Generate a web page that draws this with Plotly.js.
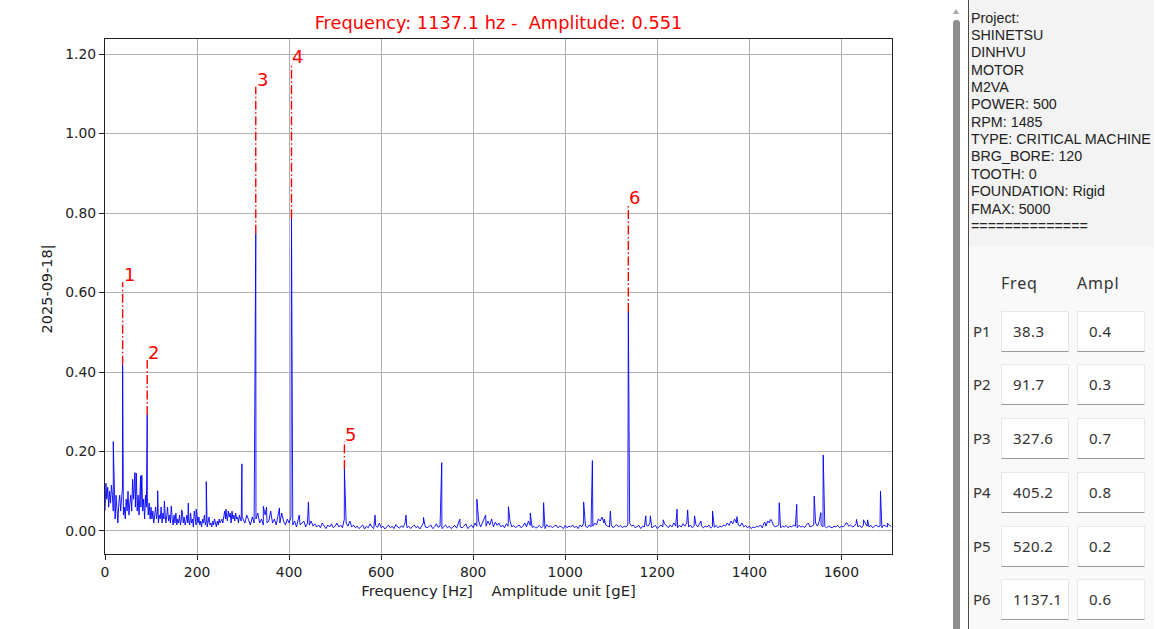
<!DOCTYPE html>
<html>
<head>
<meta charset="utf-8">
<script src="https://cdn.plot.ly/plotly-3.0.1.min.js"></script>
<style>
  html, body { margin:0; padding:0; width:1156px; height:629px; overflow:hidden; background:#fff; }
  #chart { position:absolute; left:0; top:0; width:940px; height:629px; }
  #side { position:absolute; left:940px; top:0; width:216px; height:629px; background:#fff; }
  .abs { position:absolute; }
  #info { font-family:"Liberation Sans", Arial, sans-serif; font-size:14.3px; color:#222; line-height:17.36px; }
  .tbl { font-family:"Noto Sans", "DejaVu Sans", sans-serif; color:#333; }
  .box { position:absolute; width:68px; height:41px; background:#fff; border:1px solid #e8e8e8; border-bottom:1px solid #9a9a9a; box-sizing:border-box; font-size:15px; letter-spacing:0.4px; line-height:39px; padding-left:11px; }
</style>
</head>
<body>
<div id="chart"></div>
<div id="side"></div>
<script>
// ---------------- DATA ----------------
const chartTitle = "Frequency: 1137.1 hz -\u00a0\u00a0Amplitude: 0.551";
const xAxisTitle = "Frequency [Hz]\u00a0\u00a0\u00a0\u00a0Amplitude unit [gE]";
const yAxisTitle = "2025-09-18|";

// peaks (marked)
const peakLabels = ["1", "2", "3", "4", "5", "6"];
const peakFreq = [38.3, 91.7, 327.6, 405.2, 520.2, 1137.1];
const peakAmp  = [0.418, 0.292, 0.748, 0.787, 0.156, 0.551];
const peakMarkTop = [0.626, 0.430, 1.118, 1.176, 0.225, 0.820];

// minor spectral lines
const spikeFreq = [18, 65, 77.5, 114.5, 129, 144, 166, 181, 198, 220, 263, 297.5, 344, 351, 379, 422, 442,
  586.8, 654, 692, 731.7, 771, 808, 827, 876.6, 924, 953, 1040, 1059, 1085, 1098, 1175, 1185, 1213,
  1243, 1266, 1281, 1295, 1320, 1373, 1434, 1445, 1465, 1503, 1528, 1541, 1555.5, 1560.5, 1610,
  1633, 1648, 1657, 1685, 1700];
const spikeAmp = [0.225, 0.147, 0.139, 0.101, 0.075, 0.063, 0.053, 0.070, 0.055, 0.124, 0.055, 0.169, 0.062, 0.060, 0.058, 0.040, 0.073,
  0.040, 0.040, 0.034, 0.172, 0.030, 0.080, 0.040, 0.061, 0.045, 0.071, 0.073, 0.177, 0.030, 0.050, 0.038, 0.038, 0.028,
  0.055, 0.053, 0.038, 0.025, 0.050, 0.036, 0.022, 0.028, 0.071, 0.067, 0.020, 0.088, 0.046, 0.191, 0.020,
  0.029, 0.028, 0.028, 0.100, 0.020];

// background spectrum 0..298 Hz (2 Hz bins)
const lowBandStart = 0, lowBandStep = 2;
const lowBand = [
  0.05, 0.12, 0.08, 0.11, 0.06, 0.10, 0.07, 0.115, 0.09, 0.05, 0.08, 0.03, 0.09, 0.06, 0.02, 0.07,
  0.09, 0.05, 0.10, 0.11, 0.04, 0.06, 0.03, 0.08, 0.05, 0.10, 0.04, 0.07, 0.09, 0.05, 0.13,
  0.08, 0.135, 0.06, 0.145, 0.05, 0.09, 0.04, 0.11, 0.06, 0.14, 0.05, 0.08, 0.03, 0.09, 0.06, 0.085, 0.04, 0.07, 0.03, 0.06,
  0.03, 0.05, 0.02, 0.04, 0.06, 0.03, 0.05, 0.02, 0.04, 0.03, 0.06, 0.02, 0.045, 0.03, 0.05, 0.02, 0.035, 0.06, 0.025, 0.04, 0.02, 0.05, 0.03, 0.015, 0.04,
  0.02, 0.045, 0.015, 0.03, 0.02, 0.04, 0.015, 0.03, 0.05, 0.02, 0.035, 0.015, 0.025, 0.04, 0.02, 0.03, 0.015, 0.045, 0.02, 0.03, 0.01, 0.05, 0.025, 0.015, 0.03,
  0.02, 0.035, 0.015, 0.025, 0.01, 0.03, 0.02, 0.04, 0.015, 0.025, 0.01, 0.02, 0.035, 0.015, 0.02, 0.01, 0.025, 0.015, 0.03, 0.02, 0.01, 0.025, 0.015, 0.03, 0.02,
  0.025, 0.03, 0.02, 0.045, 0.05, 0.03, 0.04, 0.025, 0.05, 0.035, 0.045, 0.02, 0.05, 0.03, 0.04, 0.025, 0.045, 0.03, 0.035, 0.02, 0.04, 0.03, 0.025, 0.035
];

// background spectrum 300..1708 Hz (4 Hz bins)
const highBandStart = 300, highBandStep = 4;
const highBand = [
  0.03,0.02,0.04,0.025,0.015,0.035,0.02,0.03,0.045,0.02,
  0.03,0.015,0.04,0.02,0.025,0.05,0.02,0.03,0.015,0.035,
  0.02,0.045,0.025,0.015,0.03,0.02,0.035,0.015,0.025,0.01,
  0.03,0.015,0.02,0.025,0.01,0.02,0.015,0.025,0.012,0.018,
  0.01,0.015,0.008,0.02,0.012,0.006,0.015,0.01,0.018,0.008,
  0.012,0.02,0.01,0.015,0.008,0.03,0.02,0.012,0.025,0.01,
  0.015,0.008,0.012,0.006,0.01,0.015,0.005,0.012,0.008,0.018,
  0.01,0.006,0.014,0.009,0.02,0.008,0.012,0.005,0.01,0.015,
  0.008,0.012,0.006,0.016,0.01,0.007,0.013,0.009,0.02,0.008,
  0.012,0.006,0.01,0.015,0.008,0.012,0.005,0.014,0.02,0.01,
  0.008,0.012,0.015,0.006,0.01,0.018,0.009,0.012,0.006,0.01,
  0.015,0.008,0.012,0.006,0.01,0.014,0.007,0.02,0.01,0.008,
  0.012,0.018,0.006,0.01,0.015,0.008,0.02,0.012,0.025,0.01,
  0.02,0.03,0.012,0.025,0.015,0.03,0.01,0.022,0.014,0.02,
  0.01,0.015,0.008,0.018,0.012,0.025,0.01,0.014,0.008,0.012,
  0.015,0.008,0.012,0.02,0.01,0.025,0.014,0.009,0.012,0.007,
  0.01,0.014,0.008,0.012,0.006,0.016,0.01,0.013,0.008,0.012,
  0.015,0.008,0.012,0.01,0.006,0.014,0.008,0.012,0.01,0.015,
  0.008,0.012,0.006,0.015,0.01,0.02,0.012,0.008,0.015,0.01,
  0.012,0.02,0.015,0.03,0.025,0.035,0.02,0.015,0.012,0.01,
  0.015,0.008,0.012,0.016,0.01,0.014,0.008,0.012,0.01,0.015,
  0.02,0.012,0.015,0.008,0.01,0.014,0.006,0.012,0.01,0.015,
  0.012,0.02,0.008,0.01,0.014,0.006,0.012,0.015,0.01,0.018,
  0.012,0.008,0.015,0.01,0.02,0.012,0.008,0.014,0.01,0.018,
  0.012,0.02,0.01,0.015,0.008,0.012,0.016,0.01,0.02,0.012,
  0.008,0.012,0.01,0.015,0.007,0.012,0.009,0.014,0.008,0.012,
  0.01,0.015,0.012,0.02,0.014,0.025,0.018,0.03,0.02,0.015,
  0.012,0.02,0.01,0.014,0.008,0.012,0.006,0.01,0.008,0.012,
  0.01,0.015,0.008,0.02,0.012,0.025,0.02,0.028,0.015,0.01,
  0.012,0.015,0.008,0.012,0.01,0.014,0.008,0.012,0.01,0.015,
  0.012,0.008,0.014,0.01,0.012,0.008,0.015,0.02,0.01,0.012,
  0.015,0.02,0.012,0.025,0.015,0.01,0.012,0.008,0.012,0.01,
  0.008,0.012,0.01,0.014,0.008,0.012,0.01,0.015,0.02,0.012,
  0.015,0.01,0.012,0.018,0.01,0.014,0.008,0.015,0.02,0.012,
  0.01,0.014,0.008,0.012,0.015,0.01,0.012,0.008,0.015,0.012,
  0.01,0.014,0.012
];

// axes
const xTickVals = [0, 200, 400, 600, 800, 1000, 1200, 1400, 1600];
const yTickVals = [0.0, 0.2, 0.4, 0.6, 0.8, 1.0, 1.2];
const xRange = [0, 1710];
const yRange = [-0.058, 1.238];

// side panel text
const infoLines = ["Project:", "SHINETSU", "DINHVU", "MOTOR", "M2VA", "POWER: 500", "RPM: 1485",
  "TYPE: CRITICAL MACHINE", "BRG_BORE: 120", "TOOTH: 0", "FOUNDATION: Rigid", "FMAX: 5000", "=============="];
const tableHeaders = ["Freq", "Ampl"];
const rowNames = ["P1", "P2", "P3", "P4", "P5", "P6"];
const rowFreq = ["38.3", "91.7", "327.6", "405.2", "520.2", "1137.1"];
const rowAmpl = ["0.4", "0.3", "0.7", "0.8", "0.2", "0.6"];

// ---------------- BUILD SERIES ----------------
const pts = [];
lowBand.forEach((v, i) => pts.push([lowBandStart + i * lowBandStep, v]));
highBand.forEach((v, i) => pts.push([highBandStart + i * highBandStep, v]));
spikeFreq.forEach((f, i) => pts.push([f, spikeAmp[i]]));
peakFreq.forEach((f, i) => pts.push([f, peakAmp[i]]));
pts.sort((a, b) => a[0] - b[0]);

const spectrum = {
  x: pts.map(p => p[0]), y: pts.map(p => p[1]),
  type: 'scatter', mode: 'lines',
  line: { color: '#0000ff', width: 0.9 },
  hoverinfo: 'skip', showlegend: false
};

const mx = [], my = [];
peakFreq.forEach((f, i) => { mx.push(f, f, null); my.push(peakAmp[i], peakMarkTop[i], null); });
const marks = {
  x: mx, y: my, type: 'scatter', mode: 'lines',
  line: { color: '#ff0000', width: 1.4, dash: '9px,2.5px,1.5px,2.5px' },
  hoverinfo: 'skip', showlegend: false
};

const tickFont = { family: 'DejaVu Sans, sans-serif', size: 13.9, color: '#222' };
const annotations = peakFreq.map((f, i) => ({
  x: f, y: peakMarkTop[i], xref: 'x', yref: 'y', text: peakLabels[i], showarrow: false,
  xanchor: 'left', yanchor: 'bottom', xshift: 0, yshift: -4, borderpad: 0,
  font: { family: 'DejaVu Sans, sans-serif', size: 18, color: '#ff0000' }
}));
annotations.push({
  x: 0, y: 0.5, xref: 'paper', yref: 'paper', text: yAxisTitle, showarrow: false,
  textangle: -90, xanchor: 'center', yanchor: 'middle', xshift: -58, yshift: 7,
  font: { family: 'DejaVu Sans, sans-serif', size: 14.5, color: '#222' }
});

const axisCommon = {
  showline: true, linecolor: '#222', linewidth: 1, mirror: true,
  ticks: 'outside', ticklen: 5, tickwidth: 1, tickcolor: '#222',
  showgrid: true, gridcolor: '#b0b0b0', gridwidth: 1, zeroline: false,
  tickfont: tickFont
};

const layout = {
  width: 940, height: 629,
  margin: { l: 105, r: 48, t: 39, b: 75 },
  paper_bgcolor: '#fff', plot_bgcolor: '#fff',
  title: {
    text: chartTitle, x: 0.5, xref: 'paper', xanchor: 'center',
    y: 1 - 23 / 629, yref: 'container', yanchor: 'middle',
    font: { family: 'DejaVu Sans, sans-serif', size: 17.8, color: '#ff0000' }
  },
  xaxis: Object.assign({}, axisCommon, {
    range: xRange, tickvals: xTickVals, ticktext: xTickVals.map(String),
    title: { text: xAxisTitle, standoff: 6, font: { family: 'DejaVu Sans, sans-serif', size: 14.8, color: '#222' } }
  }),
  yaxis: Object.assign({}, axisCommon, {
    range: yRange, tickvals: yTickVals, ticktext: yTickVals.map(v => v.toFixed(2))
  }),
  annotations: annotations,
  showlegend: false
};

Plotly.newPlot('chart', [spectrum, marks], layout, { displayModeBar: false, staticPlot: true });

// ---------------- SIDE PANEL ----------------
const side = document.getElementById('side');
function el(tag, cls, style, text) {
  const e = document.createElement(tag);
  if (cls) e.className = cls;
  Object.assign(e.style, style);
  if (text !== undefined) e.textContent = text;
  side.appendChild(e);
  return e;
}
// scrollbar
el('div', 'abs', { left: '13px', top: '9px', width: '0', height: '0', borderLeft: '3.5px solid transparent', borderRight: '3.5px solid transparent', borderBottom: '5px solid #a8a8a8' });
el('div', 'abs', { left: '13px', top: '20px', width: '7px', height: '620px', background: '#8e8e8e', borderRadius: '3px' });
// panel border
el('div', 'abs', { left: '28px', top: '0', width: '1px', height: '629px', background: '#4a4a4a' });
// info panel
const info = el('div', 'abs', { left: '29px', top: '0', width: '185px', height: '246px', background: '#f3f3f3', paddingTop: '9.6px', paddingLeft: '2px', boxSizing: 'border-box' });
info.id = 'info';
infoLines.forEach(t => { const d = document.createElement('div'); d.textContent = t; d.style.whiteSpace = 'nowrap'; info.appendChild(d); });
// table panel
el('div', 'abs', { left: '29px', top: '246px', width: '185px', height: '383px', background: '#f9f9f9' });
const hdrLeft = [61, 137];
tableHeaders.forEach((h, i) => {
  el('div', 'abs tbl', { left: hdrLeft[i] + 'px', top: '272px', fontSize: '16px', letterSpacing: '0.8px', lineHeight: '22px' }, h);
});
rowNames.forEach((r, i) => {
  const top = 310.7 + i * 53.7;
  el('div', 'abs tbl', { left: '33px', top: (top + 10) + 'px', fontSize: '15px', lineHeight: '21px' }, r);
  el('div', 'box tbl', { left: '61px', top: top + 'px' }, rowFreq[i]);
  el('div', 'box tbl', { left: '137px', top: top + 'px' }, rowAmpl[i]);
});
</script>
</body>
</html>
